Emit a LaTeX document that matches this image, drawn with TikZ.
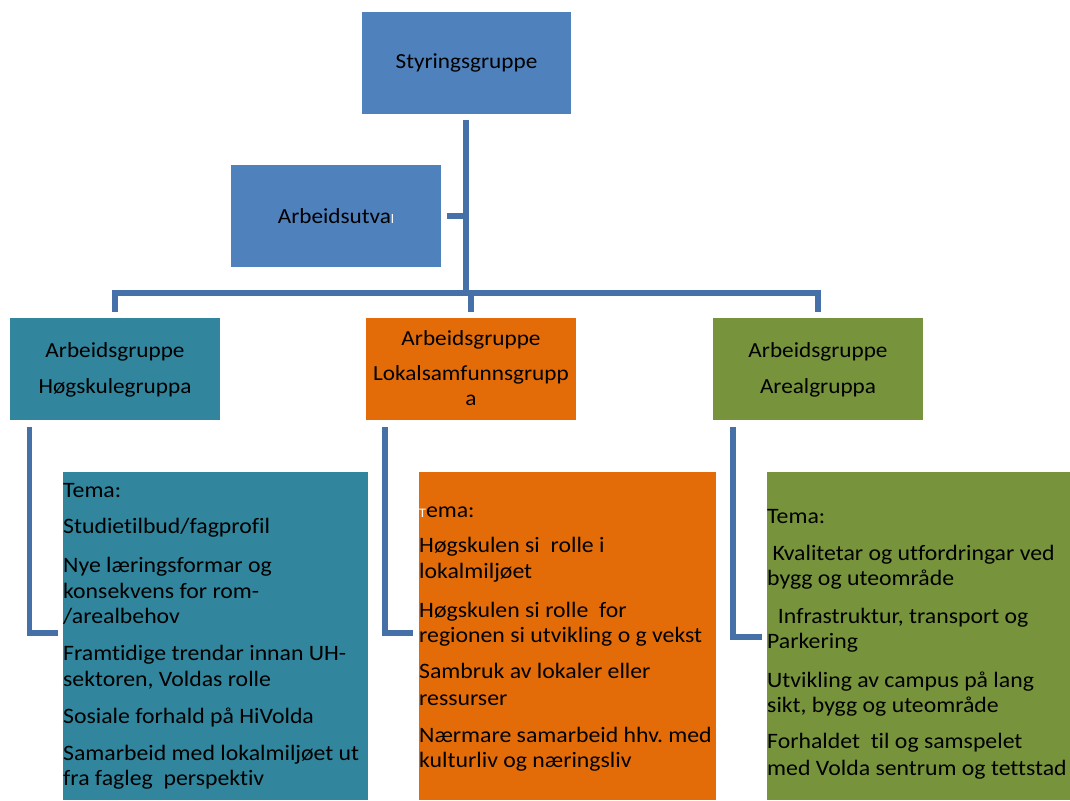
\documentclass[tikz,border=0pt]{standalone}
\usepackage{fontspec}
\setmainfont{Carlito}[FakeStretch=1.08, Ligatures={NoCommon}]
\usetikzlibrary{calc}
\definecolor{cblue}{HTML}{4F81BD}
\definecolor{cteal}{HTML}{31859C}
\definecolor{corange}{HTML}{E36C09}
\definecolor{cgreen}{HTML}{77933C}
\definecolor{cline}{HTML}{4571A8}
\tikzset{
  box/.style={rectangle, draw=none, inner sep=0pt, minimum width=210pt, minimum height=102pt},
  conn/.style={draw=cline, line width=5.5pt},
  tl/.style={anchor=base west, inner sep=0pt, font=\fontsize{22}{25}\selectfont},
  tt/.style={anchor=base, inner sep=0pt, font=\fontsize{21.5}{25}\selectfont},
}
\begin{document}
\begin{tikzpicture}[x=1pt,y=-1pt]
\useasboundingbox (0,0) rectangle (1070,800);
% boxes
\node[box, fill=cblue, minimum width=209pt] (sty) at (466.5,63) {};
\node[box, fill=cblue] (utv) at (336,216) {};
\node[box, fill=cteal] (hg) at (115,369) {};
\node[box, fill=corange] (lk) at (471,369) {};
\node[box, fill=cgreen] (ar) at (818,369) {};
\node[box, fill=cteal, minimum width=305pt, minimum height=328pt] (hgT) at (215.5,636) {};
\node[box, fill=corange, minimum width=297pt, minimum height=328pt] (lkT) at (567.5,636) {};
\node[box, fill=cgreen, minimum width=303pt, minimum height=328pt] (arT) at (918.5,636) {};
% connectors
\coordinate (bj) at (466,293);
\draw[conn] ($(sty.south)+(-0.5,6)$) -- (bj);
\draw[conn] ($(hg.north)+(0,-6)$) |- (bj) -| ($(ar.north)+(0,-6)$);
\draw[conn] ($(lk.north)+(0,-6)$) -- (lk.north |- bj);
\draw[conn] ($(utv.east)+(6,0)$) -- (utv.east -| bj);
\draw[conn] ($(hg.south west)+(19.5,7)$) |- ($(hgT.west)+(-5,-3)$);
\draw[conn] ($(lk.south west)+(19,7)$) |- ($(lkT.west)+(-6,-3)$);
\draw[conn] ($(ar.south west)+(20,7)$) |- ($(arT.west)+(-5,1)$);
% titles
\node[tt] (styT) at (466.5,69) {Styringsgruppe};
\node[tt] (utvT) at (336,223) {Arbeidsutva{\color{white}\fontsize{13}{13}\selectfont l}};
\node[tt] (hg1) at (115,357) {Arbeidsgruppe};
\node[tt] (hg2) at (115,393) {Høgskulegruppa};
\node[tt] (lk1) at (471,345) {Arbeidsgruppe};
\node[tt] (lk2) at (471,380) {Lokalsamfunnsgrupp};
\node[tt] (lk3) at (471,405) {a};
\node[tt] (ar1) at (818,357) {Arbeidsgruppe};
\node[tt] (ar2) at (818,393) {Arealgruppa};
% Hogskule themes
\node[tl] (h1) at (63,497) {Tema:};
\node[tl] (h2) at (63,533) {Studietilbud/fagprofil};
\node[tl] (h3) at (63,572) {Nye læringsformar og};
\node[tl] (h4) at (63,598) {konsekvens for rom-};
\node[tl] (h5) at (63,623) {/arealbehov};
\node[tl] (h6) at (63,660) {Framtidige trendar innan UH-};
\node[tl] (h7) at (63,686) {sektoren, Voldas rolle};
\node[tl] (h8) at (63,723) {Sosiale forhald på HiVolda};
\node[tl] (h9) at (63,760) {Samarbeid med lokalmiljøet ut};
\node[tl] (h10) at (63,785) {fra fagleg\ \ perspektiv};
% Lokal themes
\node[tl] (l1) at (419,517) {{\color{white}\fontsize{13}{13}\selectfont T}ema:};
\node[tl] (l2) at (419,552) {Høgskulen si\ \ rolle i};
\node[tl] (l3) at (419,578) {lokalmiljøet};
\node[tl] (l4) at (419,617) {Høgskulen si rolle\ \ for};
\node[tl] (l5) at (419,642) {regionen si utvikling o g vekst};
\node[tl] (l6) at (419,678) {Sambruk av lokaler eller};
\node[tl] (l7) at (419,705) {ressurser};
\node[tl] (l8) at (419,742) {Nærmare samarbeid hhv.\ med};
\node[tl] (l9) at (419,767) {kulturliv og næringsliv};
% Areal themes
\node[tl] (a1) at (767,523) {Tema:};
\node[tl] (a2) at (767,560) {\ Kvalitetar og utfordringar ved};
\node[tl] (a3) at (767,585) {bygg og uteområde};
\node[tl] (a4) at (767,623) {\ \ Infrastruktur, transport og};
\node[tl] (a5) at (767,648) {Parkering};
\node[tl] (a6) at (767,687) {Utvikling av campus på lang};
\node[tl] (a7) at (767,712) {sikt, bygg og uteområde};
\node[tl] (a8) at (767,748) {Forhaldet\ \ til og samspelet};
\node[tl] (a9) at (767,775) {med Volda sentrum og tettstad};
\end{tikzpicture}
\end{document}
